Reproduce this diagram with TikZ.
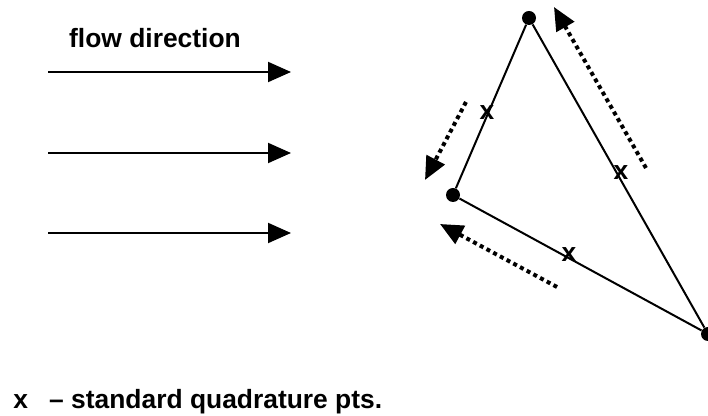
\documentclass[tikz,border=0pt]{standalone}
\usepackage{fontspec}
\setmainfont{Liberation Sans}
\usepackage{tikz}
\usetikzlibrary{arrows.meta}
\newcommand{\lblfont}{\bfseries\fontsize{13.2}{16}\selectfont}

\begin{document}
\begin{tikzpicture}[x=0.5pt,y=-0.5pt,
  lbl/.style={font=\lblfont,inner sep=0pt},
  vtx/.style={circle,fill=black,inner sep=0pt,minimum size=7pt},
  qpt/.style={font=\lblfont,inner sep=0pt},
  seg/.style={line width=1pt},
  flow/.style={-{Triangle[length=11.5pt,width=10pt]},line width=1pt},
  sweep/.style={-{Triangle[length=11.5pt,width=10pt]},line width=2pt,dash pattern=on 2pt off 1.8pt}
]
\useasboundingbox (0,0) rectangle (708,416);

% flow arrows
\node[lbl,anchor=base] (flowlbl) at (155,48) {flow direction};
\foreach \y/\n in {72/a,153/b,233/c}{
  \coordinate (f\n s) at (48,\y);
  \coordinate (f\n e) at (291,\y);
  \draw[flow] (f\n s) -- (f\n e);
}

% element
\node[vtx] (top) at (529,18) {};
\node[vtx] (left) at (453,195) {};
\node[vtx] (right) at (708,334) {};
\draw[seg] (top) -- (left) -- (right) -- (top);

% quadrature points
\node[qpt] (q1) at (487,113) {x};
\node[qpt] (q2) at (621,173) {x};
\node[qpt] (q3) at (569,255) {x};

% traversal
\coordinate (s1a) at (646,168);
\coordinate (s1b) at (554,7);
\coordinate (s2a) at (466,102);
\coordinate (s2b) at (425,180);
\coordinate (s3a) at (557,287);
\coordinate (s3b) at (440,224);
\draw[sweep] (s1a) -- (s1b);
\draw[sweep] (s2a) -- (s2b);
\draw[sweep] (s3a) -- (s3b);

\node[lbl,anchor=base west] (legend) at (13,409) {x\hspace{0.8em}– standard quadrature pts.};
\end{tikzpicture}
\end{document}
